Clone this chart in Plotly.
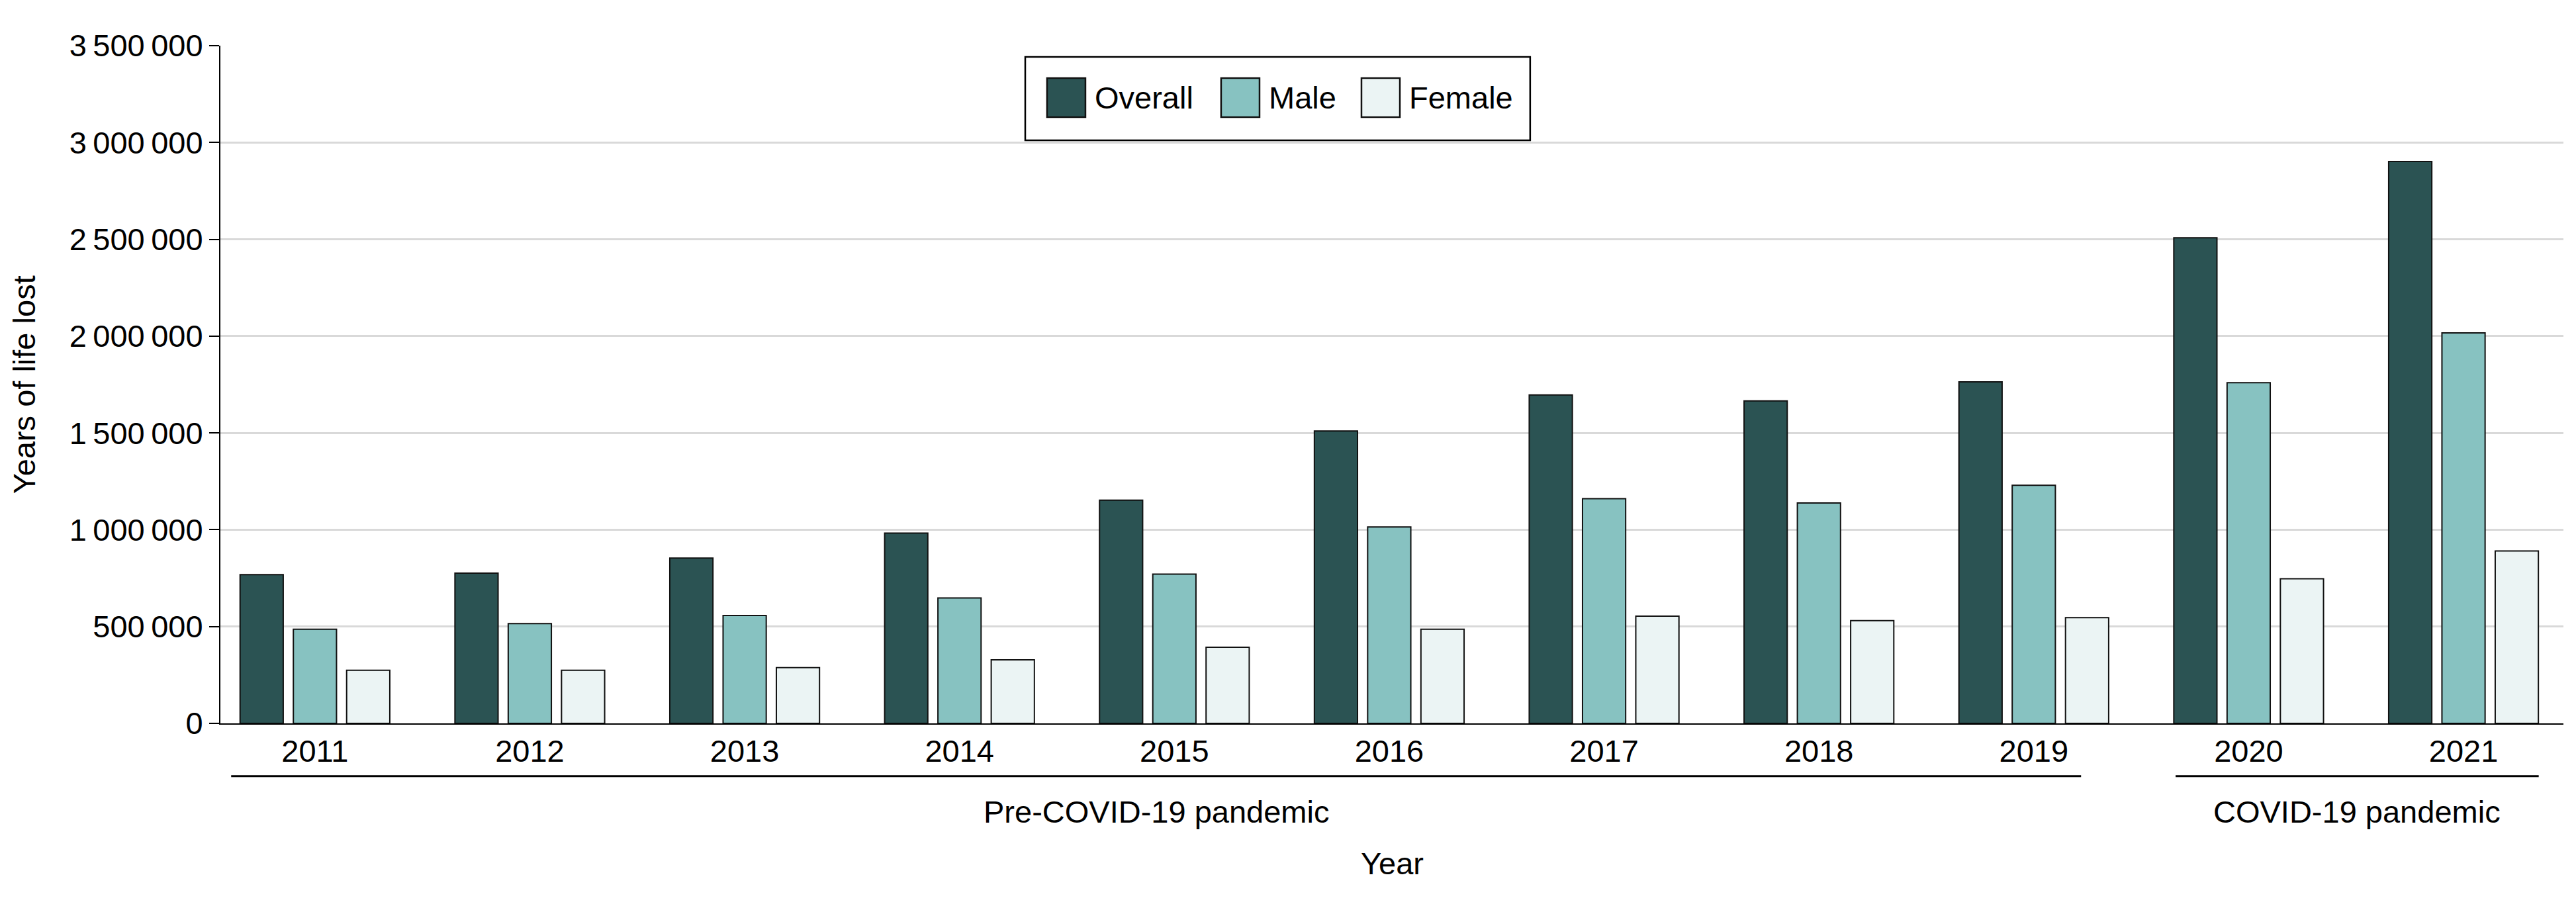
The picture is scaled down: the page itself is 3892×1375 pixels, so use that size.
import plotly.graph_objects as go

# ---------------- data ----------------
years = ["2011", "2012", "2013", "2014", "2015", "2016", "2017", "2018", "2019", "2020", "2021"]
overall = [768000, 776000, 854000, 983000, 1153000, 1510000, 1696000, 1665000, 1764000, 2508000, 2902000]
male = [486000, 515000, 557000, 648000, 771000, 1014000, 1160000, 1138000, 1230000, 1759000, 2017000]
female = [274000, 274000, 288000, 328000, 393000, 486000, 554000, 531000, 546000, 747000, 890000]
series_names = ["Overall", "Male", "Female"]
period_names = ["Pre-COVID-19 pandemic", "COVID-19 pandemic"]
period_first = ["2011", "2020"]
period_last = ["2019", "2021"]
y_ticks = [0, 500000, 1000000, 1500000, 2000000, 2500000, 3000000, 3500000]

# ---------------- style ----------------
# page body adds an 8px offset; shrink figure so the plot lands where the reference has it
W, H = 3884, 1367
ML, MR, MT, MB = 325, 19, 61, 282
FONT = "Liberation Sans, Arial, sans-serif"
FS = 47
colors = ["#2b5353", "#87c2c1", "#ebf4f4"]
series_values = [overall, male, female]

fig = go.Figure()
for name, vals, col in zip(series_names, series_values, colors):
    fig.add_trace(go.Bar(
        x=years, y=vals, name=name,
        marker=dict(color=col, line=dict(color="#111111", width=2)),
        showlegend=False,
    ))

shapes = []
annotations = []

# period underlines + labels (placed on category axis)
pad_start = [0.39, 0.34]
pad_end = [0.22, 0.35]
for i, pname in enumerate(period_names):
    x0 = years.index(period_first[i]) - pad_start[i]
    x1 = years.index(period_last[i]) + pad_end[i]
    shapes.append(dict(type="line", xref="x", yref="paper", x0=x0, x1=x1,
                       y0=-0.078, y1=-0.078, line=dict(color="black", width=3)))
    annotations.append(dict(text=pname, xref="x", yref="paper", x=(x0 + x1) / 2,
                            y=-0.13, xanchor="center", yanchor="middle", showarrow=False,
                            font=dict(family=FONT, size=FS, color="black")))

# x axis title
annotations.append(dict(text="Year", xref="paper", yref="paper", x=0.5, y=-0.207,
                        xanchor="center", yanchor="middle", showarrow=False,
                        font=dict(family=FONT, size=FS, color="black")))
# y axis title
annotations.append(dict(text="Years of life lost", xref="paper", yref="paper",
                        x=-0.0838, y=0.5, xanchor="center", yanchor="middle",
                        textangle=-90, showarrow=False, borderpad=0,
                        font=dict(family=FONT, size=FS, color="black")))

# custom legend (large swatches)
shapes.append(dict(type="rect", xref="paper", yref="paper", x0=0.3435, x1=0.5590,
                   y0=0.8604, y1=0.9834, line=dict(color="black", width=2.5),
                   fillcolor="white", layer="above"))
sw_x = [0.3528, 0.4271, 0.4870]
sw_w = 0.0164
for name, col, sx in zip(series_names, colors, sw_x):
    shapes.append(dict(type="rect", xref="paper", yref="paper", x0=sx, x1=sx + sw_w,
                       y0=0.8945, y1=0.9521, fillcolor=col,
                       line=dict(color="#111111", width=2.5), layer="above"))
    annotations.append(dict(text=name, xref="paper", yref="paper", x=sx + sw_w + 0.0035,
                            y=0.9233, xanchor="left", yanchor="middle", showarrow=False,
                            font=dict(family=FONT, size=FS, color="black")))

fig.update_layout(
    width=W, height=H,
    margin=dict(l=ML, r=MR, t=MT, b=MB, autoexpand=False),
    paper_bgcolor="white", plot_bgcolor="white",
    barmode="group", bargap=0.256, bargroupgap=0.19,
    separators=".\u2009",
    font=dict(family=FONT, size=FS, color="black"),
    shapes=shapes, annotations=annotations,
    showlegend=False,
)
fig.update_xaxes(
    type="category", range=[-0.44, 10.465],
    showline=True, linecolor="black", linewidth=2,
    ticks="", showgrid=False,
    tickfont=dict(family=FONT, size=FS, color="black"),
)
fig.update_yaxes(
    range=[0, 3500000], tickvals=y_ticks, tickformat=",d",
    showgrid=True, gridcolor="#d9d9d9", gridwidth=3,
    zeroline=False,
    showline=True, linecolor="black", linewidth=2,
    ticks="outside", ticklen=15, tickwidth=2, tickcolor="black",
    tickfont=dict(family=FONT, size=FS, color="black"),
)

fig.write_html("out.html")
